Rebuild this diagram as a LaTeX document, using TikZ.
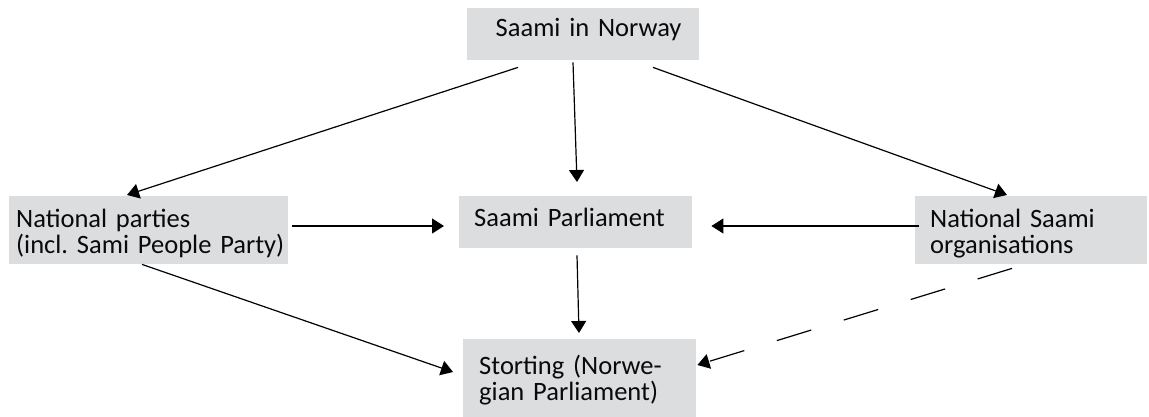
\documentclass[tikz,border=0pt]{standalone}
\usepackage{fontspec}
\setmainfont{Carlito}
\usetikzlibrary{arrows.meta,calc}
\definecolor{boxgray}{RGB}{220,221,223}
\definecolor{txtcol}{RGB}{10,10,10}
\tikzset{
  box/.style={fill=boxgray, draw=none, inner sep=0pt, anchor=north west},
  txt/.style={inner sep=0pt, anchor=base west, text width=320pt, align=left,
    text=txtcol, font=\fontsize{26.5}{26.5}\selectfont\frenchspacing},
  conn/.style={line width=1.2pt, -{Triangle[length=12pt,width=15pt]}},
  dconn/.style={conn, dash pattern=on 36pt off 34pt}
}
\begin{document}
\begin{tikzpicture}[x=1pt,y=-1pt]
\useasboundingbox (0,0) rectangle (1149,417);
% boxes
\node[box, minimum width=232pt, minimum height=52pt] (sin) at (467,8) {};
\node[box, minimum width=279pt, minimum height=68pt] (np) at (9,196) {};
\node[box, minimum width=233pt, minimum height=52pt] (sp) at (459,196) {};
\node[box, minimum width=232pt, minimum height=68pt] (nso) at (915,196) {};
\node[box, minimum width=233pt, minimum height=78pt] (st) at (463,339) {};
% texts
\node[txt] (tsin) at (495.5,37) {Saami in Norway};
\node[txt] (tnp) at (16,227) {National parties\\(incl. Sami People Party)};
\node[txt] (tsp) at (474,226) {Saami Parliament};
\node[txt] (tnso) at (930,227) {National Saami\\organisations};
\node[txt] (tst) at (479,374) {Storting (Norwe-\\gian Parliament)};
% connectors
\draw[conn] ($(sin.south west)+(51,7)$) -- ($(np.north west)+(118,-1)$);
\draw[conn] ($(sin.south west)+(106,2)$) -- ($(sp.north west)+(118,-14)$);
\draw[conn] ($(sin.south west)+(186,7)$) -- ($(nso.north west)+(92,-1)$);
\draw[conn] ($(np.north east)+(4,30)$) -- ($(sp.north west)+(-15,30)$);
\draw[conn] ($(nso.north west)+(4,30)$) -- ($(sp.north east)+(19,30)$);
\draw[conn] ($(sp.south west)+(118,7)$) -- ($(st.north west)+(116,-6)$);
\draw[conn] ($(np.south west)+(133,0)$) -- ($(st.north west)+(-10,33)$);
\draw[dconn] ($(nso.south west)+(97,4)$) -- ($(st.north east)+(1,26)$);
\end{tikzpicture}
\end{document}
